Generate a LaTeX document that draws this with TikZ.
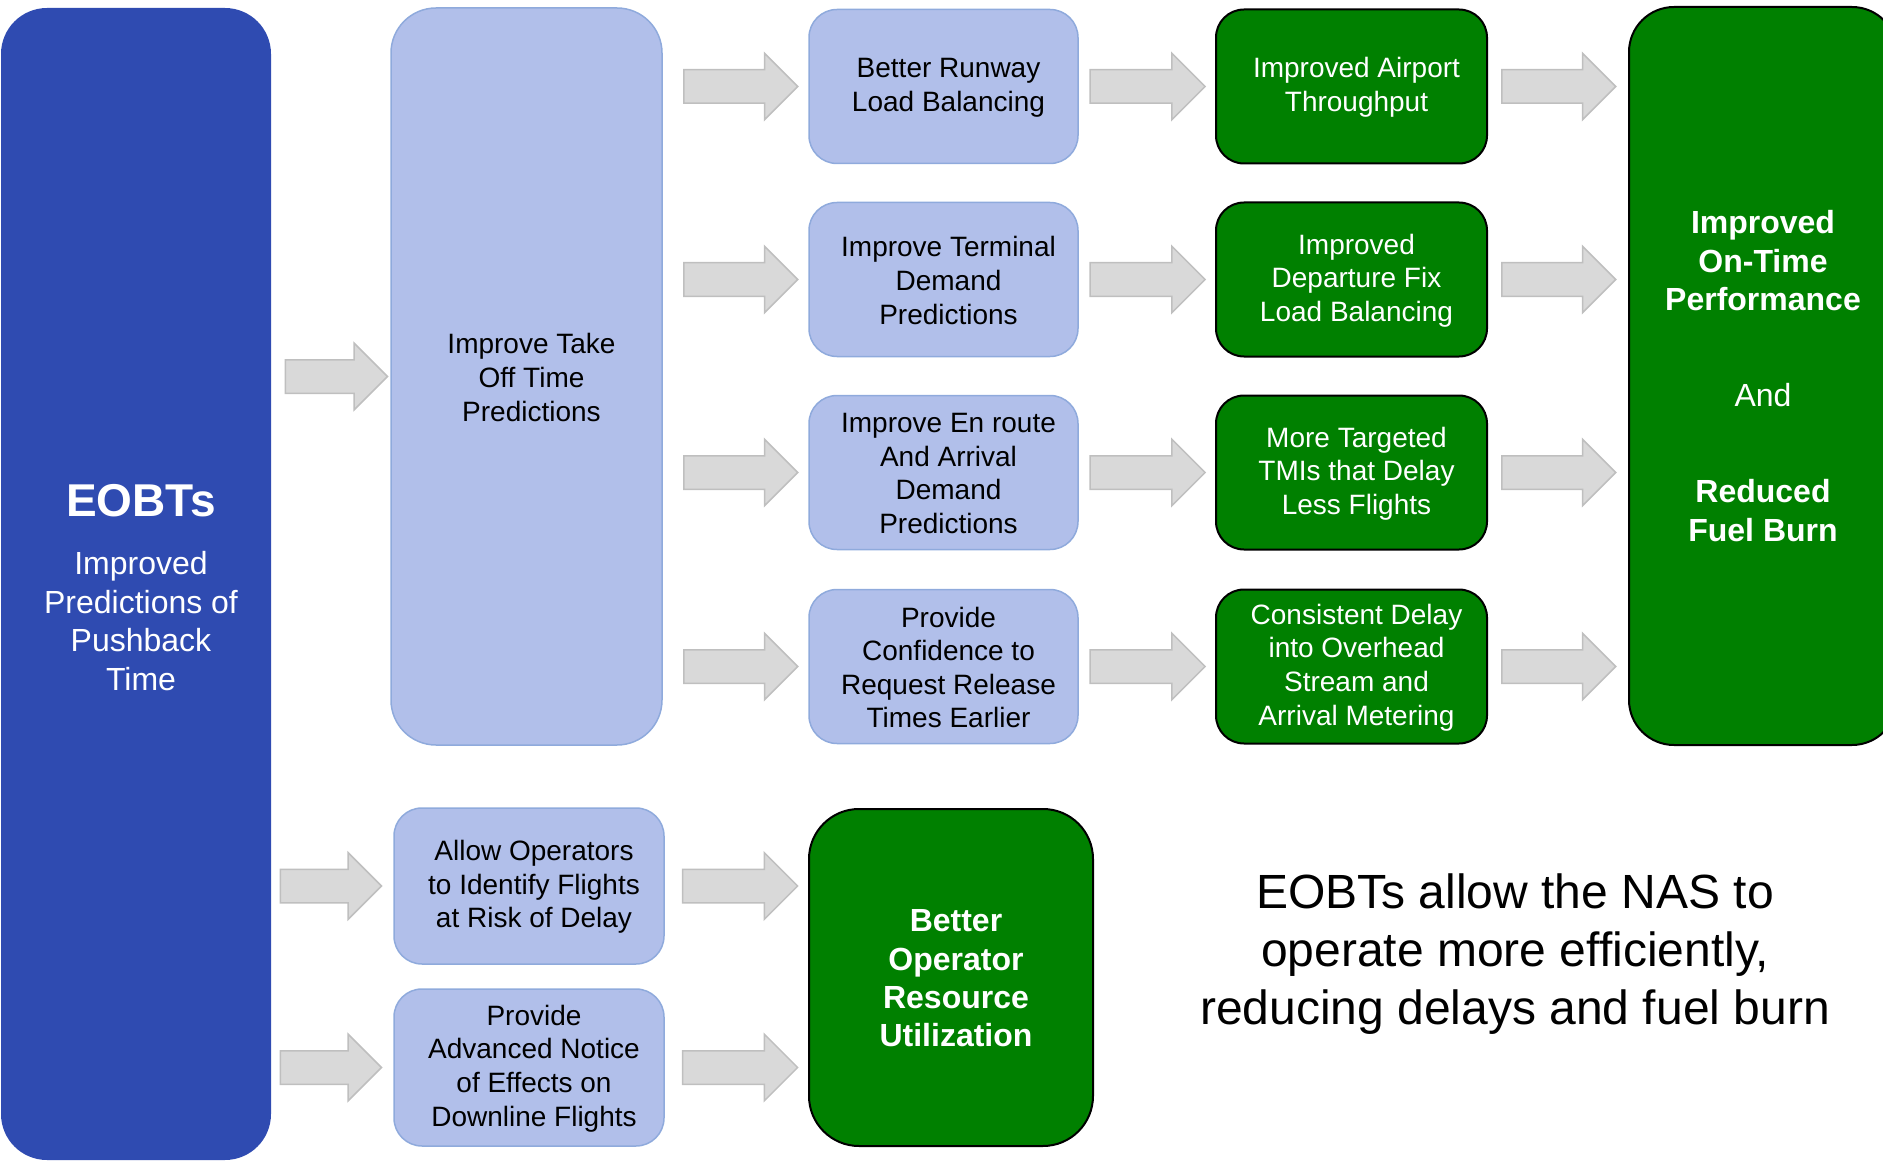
\documentclass[tikz,border=0pt]{standalone}
\usepackage{fontspec}
\setmainfont{Liberation Sans}
\usetikzlibrary{shapes.arrows,calc}
\definecolor{eobtblue}{RGB}{47,75,177}
\definecolor{lightfill}{RGB}{177,191,234}
\definecolor{lightline}{RGB}{143,170,220}
\definecolor{gfill}{RGB}{0,128,0}
\definecolor{arrfill}{RGB}{217,217,217}
\definecolor{arrline}{RGB}{191,191,191}
\newcommand{\boxfont}{\fontsize{28}{33.6}\selectfont}
\newcommand{\bigfont}{\fontsize{32}{38.4}\selectfont}
\tikzset{
  lbox/.style={draw=lightline, line width=1.5pt, fill=lightfill, rounded corners=28pt, inner sep=0pt},
  gbox/.style={draw=black, line width=2pt, fill=gfill, rounded corners=28pt, inner sep=0pt},
  ltext/.style={align=center, text=black, font=\boxfont, inner sep=0pt},
  gtext/.style={align=center, text=white, font=\boxfont, inner sep=0pt},
  blockarrow/.style={single arrow, draw=arrline, fill=arrfill, line width=1.5pt,
    inner xsep=0pt, inner ysep=16pt, single arrow head extend=16.5pt,
    single arrow tip angle=90, anchor=tail},
}
% box node plus its text node (text set slightly right, as in the reference)
\newcommand{\tbox}[5]{\node[#1] (#2) at #3 {};
  \node[#4] (#2t) at ($(#2.center)+(5,1)$) {#5};}
% block arrow between two points: #1 left point, #2 right point, #3 length, #4 x offset, #5 name
\newcommand{\barrow}[5]{\node[blockarrow, minimum height=#3pt] (#5) at ($#1!0.5!#2+(#4-#3/2,0)$) {};}
\begin{document}
\begin{tikzpicture}[x=1pt, y=-1pt]
\useasboundingbox (0,0) rectangle (1883,1161);
% left column
\node[fill=eobtblue, rounded corners=46pt, minimum width=270pt, minimum height=1152pt, inner sep=0pt] (eobt) at (136,584) {};
\node[text=white, font=\fontsize{46}{55}\selectfont\bfseries, inner sep=0pt] (eobtt) at (141,501) {EOBTs};
\node[text=white, font=\fontsize{32}{38.4}\selectfont, align=center, inner sep=0pt] (eobts) at (141,621)
  {Improved\\Predictions of\\Pushback\\Time};
% big light box
\tbox{lbox, rounded corners=45pt, minimum width=271pt, minimum height=737pt}{tot}{(526.5,376.5)}{ltext}
  {Improve Take\\Off Time\\Predictions}
% column 2
\tbox{lbox, minimum width=269pt, minimum height=154pt}{r1}{(943.5,86.5)}{ltext}{Better Runway\\Load Balancing}
\tbox{lbox, minimum width=269pt, minimum height=154pt}{r2}{(943.5,279.5)}{ltext}{Improve Terminal\\Demand\\Predictions}
\tbox{lbox, minimum width=269pt, minimum height=154pt}{r3}{(943.5,472.5)}{ltext}{Improve En route\\And Arrival\\Demand\\Predictions}
\tbox{lbox, minimum width=269pt, minimum height=154pt}{r4}{(943.5,666.5)}{ltext}{Provide\\Confidence to\\Request Release\\Times Earlier}
% column 3
\tbox{gbox, minimum width=271pt, minimum height=154pt}{g1}{(1351.5,86.5)}{gtext}{Improved Airport\\Throughput}
\tbox{gbox, minimum width=271pt, minimum height=154pt}{g2}{(1351.5,279.5)}{gtext}{Improved\\Departure Fix\\Load Balancing}
\tbox{gbox, minimum width=271pt, minimum height=154pt}{g3}{(1351.5,472.5)}{gtext}{More Targeted\\TMIs that Delay\\Less Flights}
\tbox{gbox, minimum width=271pt, minimum height=154pt}{g4}{(1351.5,666.5)}{gtext}{Consistent Delay\\into Overhead\\Stream and\\Arrival Metering}
% big green
\node[gbox, rounded corners=45pt, minimum width=268pt, minimum height=738pt] (otp) at (1763,376) {};
\node[gtext, font=\bigfont] (otpt) at (otp.center)
  {\textbf{Improved}\\\textbf{On-Time}\\\textbf{Performance}\\[57.6pt]And\\[57.6pt]\textbf{Reduced}\\\textbf{Fuel Burn}};
% bottom row
\tbox{lbox, minimum width=270pt, minimum height=156pt}{al}{(529,886)}{ltext}{Allow Operators\\to Identify Flights\\at Risk of Delay}
\tbox{lbox, minimum width=270pt, minimum height=157pt}{pa}{(529,1067.5)}{ltext}{Provide\\Advanced Notice\\of Effects on\\Downline Flights}
\tbox{gbox, rounded corners=50pt, minimum width=284pt, minimum height=337pt}{bor}{(951,977.5)}{gtext, font=\bigfont\bfseries}
  {Better\\Operator\\Resource\\Utilization}
% summary text
\node[align=center, font=\fontsize{48}{57.6}\selectfont, inner sep=0pt] (sum) at (1515,954)
  {EOBTs allow the NAS to\\operate more efficiently,\\reducing delays and fuel burn};
% block arrows
\barrow{(eobt.east |- tot.west)}{(tot.west)}{102}{5}{a0}
\barrow{(tot.east |- r1.west)}{(r1.west)}{114}{4.5}{a11}
\barrow{(tot.east |- r2.west)}{(r2.west)}{114}{4.5}{a12}
\barrow{(tot.east |- r3.west)}{(r3.west)}{114}{4.5}{a13}
\barrow{(tot.east |- r4.west)}{(r4.west)}{114}{4.5}{a14}
\barrow{(r1.east)}{(g1.west)}{115}{0}{a21}
\barrow{(r2.east)}{(g2.west)}{115}{0}{a22}
\barrow{(r3.east)}{(g3.west)}{115}{0}{a23}
\barrow{(r4.east)}{(g4.west)}{115}{0}{a24}
\barrow{(g1.east)}{(otp.west |- g1.east)}{114}{0}{a31}
\barrow{(g2.east)}{(otp.west |- g2.east)}{114}{0}{a32}
\barrow{(g3.east)}{(otp.west |- g3.east)}{114}{0}{a33}
\barrow{(g4.east)}{(otp.west |- g4.east)}{114}{0}{a34}
\barrow{(eobt.east |- al.west)}{(al.west)}{101}{-2}{b1}
\barrow{(eobt.east |- pa.west)}{(pa.west)}{101}{-2}{b2}
\barrow{(al.east)}{(bor.west |- al.east)}{115}{3}{b3}
\barrow{(pa.east)}{(bor.west |- pa.east)}{115}{3}{b4}
\end{tikzpicture}
\end{document}
